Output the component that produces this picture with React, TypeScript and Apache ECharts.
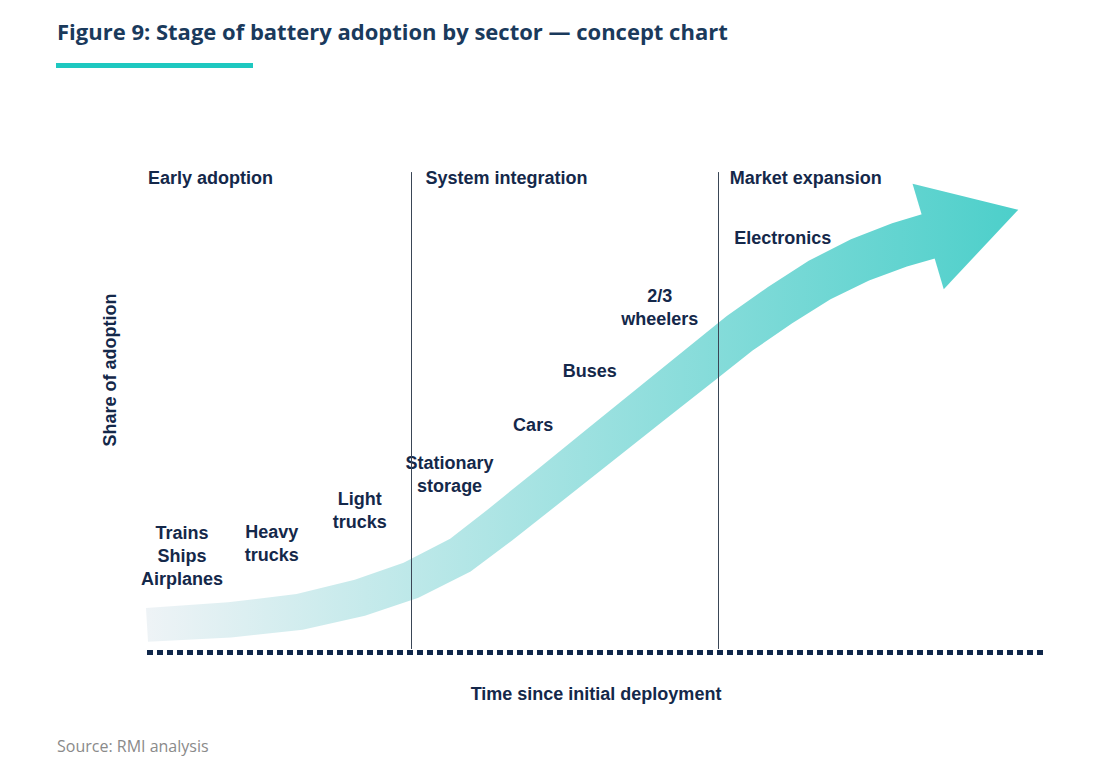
import React, { useEffect, useRef } from 'react';
import * as echarts from 'echarts';

// concept chart, axes 0..100 in both directions
const stages = ['Early adoption', 'System integration', 'Market expansion'];
const stageStartX = [0.1, 31, 64.9];
const dividerX = [29.4, 63.6];

const sectors = ['Trains\nShips\nAirplanes', 'Heavy\ntrucks', 'Light\ntrucks', 'Stationary\nstorage', 'Cars', 'Buses', '2/3\nwheelers', 'Electronics'];
const sectorX = [3.9, 13.9, 23.7, 33.7, 43, 49.3, 57.1, 70.8];
const sectorY = [19.2, 21.6, 28.1, 35.4, 45.3, 56, 68.7, 82.4];

// centre line of the arrow body
const curveX = [0, 9.2, 17, 23.7, 29.4, 34.9, 39.3, 44.9, 50.4, 56, 61.6, 66, 70.5, 74.9, 79.4, 83.8, 87.2];
const curveY = [5.4, 6.4, 8, 10.8, 14.3, 19.3, 25.3, 33.3, 41.2, 49.2, 57.2, 63.5, 69.1, 74.1, 78.1, 81.1, 82.9];

const navy = '#14284a';

const App: React.FC = () => {
  const chartRef = useRef<HTMLDivElement>(null);

  useEffect(() => {
    document.body.style.margin = '0';
    if (!chartRef.current) return;
    const chart = echarts.init(chartRef.current, null, { renderer: 'svg' });
    const font = 'Arial, "Liberation Sans", sans-serif';
    const grad = () =>
      new echarts.graphic.LinearGradient(147, 0, 1020, 0, [
        { offset: 0, color: '#eef3f6' },
        { offset: 1, color: '#4ccfca' },
      ], true);
    const labelStyle = {
      fontSize: 18, fontWeight: 'bold', color: navy, fontFamily: font,
      textBorderWidth: 0, opacity: 1,
    };

    const option = {
      animation: false,
      grid: { left: 147, right: 66, top: 150, bottom: 123 },
      xAxis: {
        type: 'value', min: 0, max: 100,
        axisLine: { show: true, lineStyle: { color: '#10284a', width: 5, type: [6, 4], cap: 'butt' } },
        axisTick: { show: false }, axisLabel: { show: false }, splitLine: { show: false },
        name: 'Time since initial deployment', nameLocation: 'middle', nameGap: 33,
        nameTextStyle: { fontSize: 18, fontWeight: 'bold', color: navy, fontFamily: font },
      },
      yAxis: {
        type: 'value', min: 0, max: 100,
        axisLine: { show: false }, axisTick: { show: false }, axisLabel: { show: false }, splitLine: { show: false },
      },
      graphic: [
        { type: 'text', left: 57, top: 20, style: { text: 'Figure 9: Stage of battery adoption by sector — concept chart', font: 'bold 22px "Open Sans", sans-serif', fill: '#1a3a5c' } },
        { type: 'rect', shape: { x: 56, y: 63, width: 197, height: 5 }, style: { fill: '#1ec8c0' } },
        { type: 'text', x: 110, y: 370, rotation: Math.PI / 2, style: { text: 'Share of adoption', font: `bold 18px ${font}`, fill: navy, align: 'center', verticalAlign: 'middle' } },
        { type: 'text', left: 57, top: 738, style: { text: 'Source: RMI analysis', font: '16px "Open Sans", sans-serif', fill: '#8a8a8a' } },
      ],
      series: [
        {
          type: 'custom',
          data: [[0, 0]],
          silent: true,
          renderItem: (_p: any, api: any) => {
            const pts = curveX.map((x, i) => api.coord([x, curveY[i]]));
            const n = pts.length;
            const up: number[][] = [];
            const dn: number[][] = [];
            pts.forEach((p: number[], i: number) => {
              const a = pts[Math.max(0, i - 1)];
              const b = pts[Math.min(n - 1, i + 1)];
              const dx = b[0] - a[0], dy = b[1] - a[1];
              const l = Math.hypot(dx, dy);
              const nx = -dy / l, ny = dx / l;
              const w = (34 + (p[0] - pts[0][0]) / (pts[n - 1][0] - pts[0][0]) * 12) / 2;
              up.push([p[0] + nx * w, p[1] + ny * w]);
              dn.push([p[0] - nx * w, p[1] - ny * w]);
            });
            const last = pts[n - 1], prev = pts[n - 2];
            const dx = last[0] - prev[0], dy = last[1] - prev[1];
            const l = Math.hypot(dx, dy);
            const ux = dx / l, uy = dy / l, nx = -uy, ny = ux;
            const head = [
              [last[0] - ux * 2 + nx * 55, last[1] - uy * 2 + ny * 55],
              [last[0] + ux * 92, last[1] + uy * 92],
              [last[0] - ux * 2 - nx * 55, last[1] - uy * 2 - ny * 55],
            ];
            return {
              type: 'group',
              children: [
                { type: 'polygon', shape: { points: up.concat(dn.reverse()) }, style: { fill: grad() } },
                { type: 'polygon', shape: { points: head }, style: { fill: grad() } },
              ],
            };
          },
          z: 1,
        },
        {
          type: 'line',
          data: [],
          markLine: {
            silent: true, symbol: 'none', label: { show: false },
            lineStyle: { color: '#3a4656', width: 1, type: 'solid' },
            data: dividerX.map((x) => [{ coord: [x, 0.6] }, { coord: [x, 95.6] }]),
          },
        },
        {
          type: 'scatter',
          symbolSize: 0,
          silent: true,
          data: stages.map((s, i) => ({ value: [stageStartX[i], 94.4], name: s })),
          label: { show: true, position: 'right', distance: 0, formatter: '{b}', ...labelStyle },
          z: 3,
        },
        {
          type: 'scatter',
          symbolSize: 0,
          silent: true,
          data: sectors.map((s, i) => ({ value: [sectorX[i], sectorY[i]], name: s })),
          label: { show: true, position: 'inside', formatter: '{b}', lineHeight: 23, align: 'center', ...labelStyle },
          z: 3,
        },
      ],
    };
    chart.setOption(option as any);
    return () => chart.dispose();
  }, []);

  return <div ref={chartRef} style={{ width: 1111, height: 775 }} />;
};

export default App;
